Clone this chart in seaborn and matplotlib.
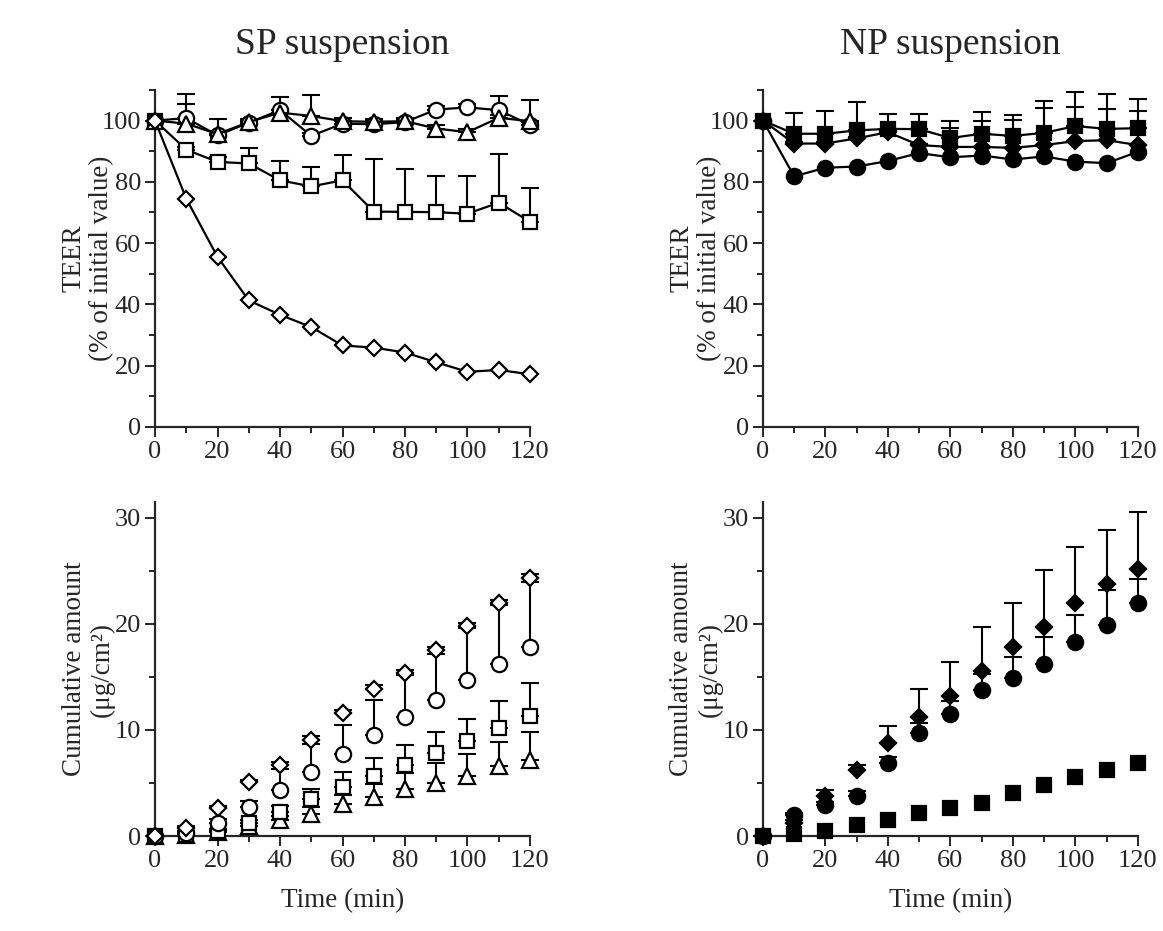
import numpy as np
import pandas as pd
import matplotlib
matplotlib.use("Agg")
import matplotlib.pyplot as plt
import seaborn as sns
from matplotlib.ticker import MultipleLocator

# --- Data ---
time_min = [0, 10, 20, 30, 40, 50, 60, 70, 80, 90, 100, 110, 120]

# SP suspension, TEER (% of initial value), open markers
sp_teer_diamond = [100, 74.5, 55.5, 41.3, 36.6, 32.6, 26.6, 25.9, 24.3, 21.1, 18.0, 18.6, 17.2]
sp_teer_square = [100, 90.5, 86.5, 86.0, 80.5, 78.5, 80.5, 70.3, 70.2, 70.1, 69.6, 73.2, 67.0]
sp_teer_circle = [100, 100.8, 95.2, 99.3, 103.4, 95.0, 99.0, 98.8, 99.5, 103.6, 104.3, 103.4, 98.6]
sp_teer_triangle = [100, 99.0, 95.6, 99.5, 102.6, 101.5, 99.8, 99.6, 99.8, 97.4, 96.2, 100.9, 99.8]
sp_teer_square_err = [0, 1.0, 1.5, 4.9, 6.2, 6.2, 8.4, 17.0, 14.0, 11.9, 12.4, 15.9, 11.0]
sp_teer_circle_err = [0, 7.9, 5.2, 1.0, 4.2, 1.0, 1.0, 1.0, 1.0, 1.0, 1.0, 4.6, 1.0]
sp_teer_triangle_err = [0, 6.3, 1.0, 1.0, 1.0, 6.9, 1.0, 1.0, 1.0, 1.0, 1.0, 1.0, 6.8]

# NP suspension, TEER (% of initial value), filled markers
np_teer_square = [100, 95.7, 95.7, 96.8, 97.3, 97.2, 94.3, 95.7, 95.0, 96.0, 98.2, 97.3, 97.5]
np_teer_diamond = [100, 92.5, 92.5, 94.2, 96.2, 92.0, 91.4, 91.4, 91.1, 92.0, 93.3, 93.6, 92.0]
np_teer_circle = [100, 81.8, 84.6, 85.0, 86.8, 89.4, 88.0, 88.6, 87.3, 88.3, 86.6, 86.1, 89.8]
np_teer_square_err = [0, 6.8, 7.5, 9.1, 4.8, 4.8, 5.4, 7.0, 6.8, 10.4, 11.2, 11.3, 9.7]
np_teer_diamond_err = [0, 0.5, 0.5, 0.5, 0.5, 0.5, 6.1, 8.3, 9.2, 12.0, 11.0, 10.1, 11.2]

# SP suspension, cumulative amount (ug/cm2)
sp_cum_diamond = [0, 0.8, 2.6, 5.1, 6.7, 9.1, 11.6, 13.9, 15.4, 17.5, 19.8, 22.0, 24.3]
sp_cum_circle = [0, 0.3, 1.2, 2.7, 4.3, 6.0, 7.7, 9.5, 11.2, 12.8, 14.7, 16.2, 17.8]
sp_cum_square = [0, 0.1, 0.5, 1.2, 2.3, 3.5, 4.6, 5.7, 6.7, 7.8, 9.0, 10.2, 11.3]
sp_cum_triangle = [0, 0.1, 0.4, 0.9, 1.5, 2.1, 3.0, 3.7, 4.4, 5.0, 5.7, 6.6, 7.2]
sp_cum_diamond_err = [0, 0.1, 0.2, 0.2, 0.3, 0.3, 0.3, 0.3, 0.3, 0.3, 0.3, 0.3, 0.4]
sp_cum_circle_err = [0, 0.2, 0.4, 0.6, 2.0, 2.7, 2.8, 3.3, 4.0, 4.4, 4.9, 5.6, 6.2]
sp_cum_square_err = [0, 0.1, 0.2, 0.3, 0.5, 0.9, 1.4, 1.7, 1.9, 2.0, 2.0, 2.5, 3.1]
sp_cum_triangle_err = [0, 0.1, 0.2, 0.3, 0.4, 0.6, 0.9, 1.2, 1.5, 1.9, 2.0, 2.3, 2.6]

# NP suspension, cumulative amount (ug/cm2)
np_cum_diamond = [0, 1.2, 3.8, 6.2, 8.8, 11.2, 13.2, 15.6, 17.8, 19.7, 22.0, 23.8, 25.2]
np_cum_circle = [0, 2.0, 2.9, 3.8, 6.9, 9.7, 11.5, 13.8, 14.9, 16.2, 18.3, 19.9, 22.0]
np_cum_square = [0, 0.2, 0.5, 1.0, 1.5, 2.2, 2.6, 3.1, 4.1, 4.8, 5.6, 6.2, 6.9]
np_cum_diamond_err = [0, 0.3, 0.5, 0.5, 1.6, 2.7, 3.2, 4.1, 4.2, 5.4, 5.3, 5.1, 5.4]
np_cum_circle_err = [0, 0.2, 0.3, 0.4, 0.6, 1.0, 1.2, 1.5, 2.0, 2.6, 2.5, 3.3, 2.2]

# --- Style ---
sns.set_style("ticks")
plt.rcParams['font.family'] = ['Liberation Serif', 'DejaVu Serif']

MARKERS = {'diamond': ('D', 8.5), 'square': ('s', 10.5), 'circle': ('o', 11), 'triangle': ('^', 11)}


def draw_series(ax, y, err, shape, filled, connect):
    marker, size = MARKERS[shape]
    face = 'black' if filled else 'white'
    if err is not None:
        ax.errorbar(time_min, y, yerr=[np.zeros(len(err)), err], fmt='none',
                    ecolor='black', elinewidth=1.5, capsize=6.5, capthick=1.5,
                    zorder=1, clip_on=False)
    df = pd.DataFrame({'t': time_min, 'v': y})
    sns.lineplot(data=df, x='t', y='v', ax=ax, color='black',
                 linewidth=1.6 if connect else 0, linestyle='-' if connect else 'none',
                 marker=marker, markersize=size, markerfacecolor=face,
                 markeredgecolor='black', markeredgewidth=1.6,
                 errorbar=None, zorder=3, clip_on=False)


def style_axes(ax, ymax, ymajor, yminor, ylabel, label_x, xlabel=None):
    ax.set_xlim(0, 120)
    ax.set_ylim(0, ymax)
    ax.xaxis.set_major_locator(MultipleLocator(20))
    ax.xaxis.set_minor_locator(MultipleLocator(10))
    ax.yaxis.set_major_locator(MultipleLocator(ymajor))
    ax.yaxis.set_minor_locator(MultipleLocator(yminor))
    ax.set_yticks(np.arange(0, ymax, ymajor))
    ax.tick_params(which='major', direction='out', length=7, width=1.4, labelsize=19, pad=3)
    ax.tick_params(which='minor', direction='out', length=4, width=1.4)
    for side in ['left', 'bottom']:
        ax.spines[side].set_linewidth(1.6)
    sns.despine(ax=ax)
    ax.set_ylabel(ylabel, fontsize=19.5, linespacing=1.15)
    ax.yaxis.set_label_coords(label_x, 0.5)
    ax.set_xlabel(xlabel if xlabel else '', fontsize=19.5, labelpad=12)


fig = plt.figure(figsize=(11.63, 9.31), dpi=100)

ax_sp_teer = fig.add_axes([0.1333, 0.5414, 0.3224, 0.362])
ax_np_teer = fig.add_axes([0.656, 0.5414, 0.3224, 0.362])
ax_sp_cum = fig.add_axes([0.1333, 0.102, 0.3224, 0.3588])
ax_np_cum = fig.add_axes([0.656, 0.102, 0.3224, 0.3588])

# SP TEER
draw_series(ax_sp_teer, sp_teer_square, sp_teer_square_err, 'square', False, True)
draw_series(ax_sp_teer, sp_teer_circle, sp_teer_circle_err, 'circle', False, True)
draw_series(ax_sp_teer, sp_teer_triangle, sp_teer_triangle_err, 'triangle', False, True)
draw_series(ax_sp_teer, sp_teer_diamond, None, 'diamond', False, True)

# NP TEER
draw_series(ax_np_teer, np_teer_circle, None, 'circle', True, True)
draw_series(ax_np_teer, np_teer_diamond, np_teer_diamond_err, 'diamond', True, True)
draw_series(ax_np_teer, np_teer_square, np_teer_square_err, 'square', True, True)

# SP cumulative
draw_series(ax_sp_cum, sp_cum_triangle, sp_cum_triangle_err, 'triangle', False, False)
draw_series(ax_sp_cum, sp_cum_square, sp_cum_square_err, 'square', False, False)
draw_series(ax_sp_cum, sp_cum_circle, sp_cum_circle_err, 'circle', False, False)
draw_series(ax_sp_cum, sp_cum_diamond, sp_cum_diamond_err, 'diamond', False, False)

# NP cumulative
draw_series(ax_np_cum, np_cum_square, None, 'square', True, False)
draw_series(ax_np_cum, np_cum_circle, np_cum_circle_err, 'circle', True, False)
draw_series(ax_np_cum, np_cum_diamond, np_cum_diamond_err, 'diamond', True, False)

teer_label = 'TEER\n(% of initial value)'
cum_label = 'Cumulative amount\n(μg/cm²)'
style_axes(ax_sp_teer, 110, 20, 10, teer_label, -0.108)
style_axes(ax_np_teer, 110, 20, 10, teer_label, -0.108)
style_axes(ax_sp_cum, 31.5, 10, 5, cum_label, -0.108, 'Time (min)')
style_axes(ax_np_cum, 31.5, 10, 5, cum_label, -0.108, 'Time (min)')

fig.text(0.2945, 0.952, 'SP suspension', ha='center', va='center', fontsize=27)
fig.text(0.8172, 0.952, 'NP suspension', ha='center', va='center', fontsize=27)

fig.savefig('out.png', dpi=100)
plt.close(fig)
